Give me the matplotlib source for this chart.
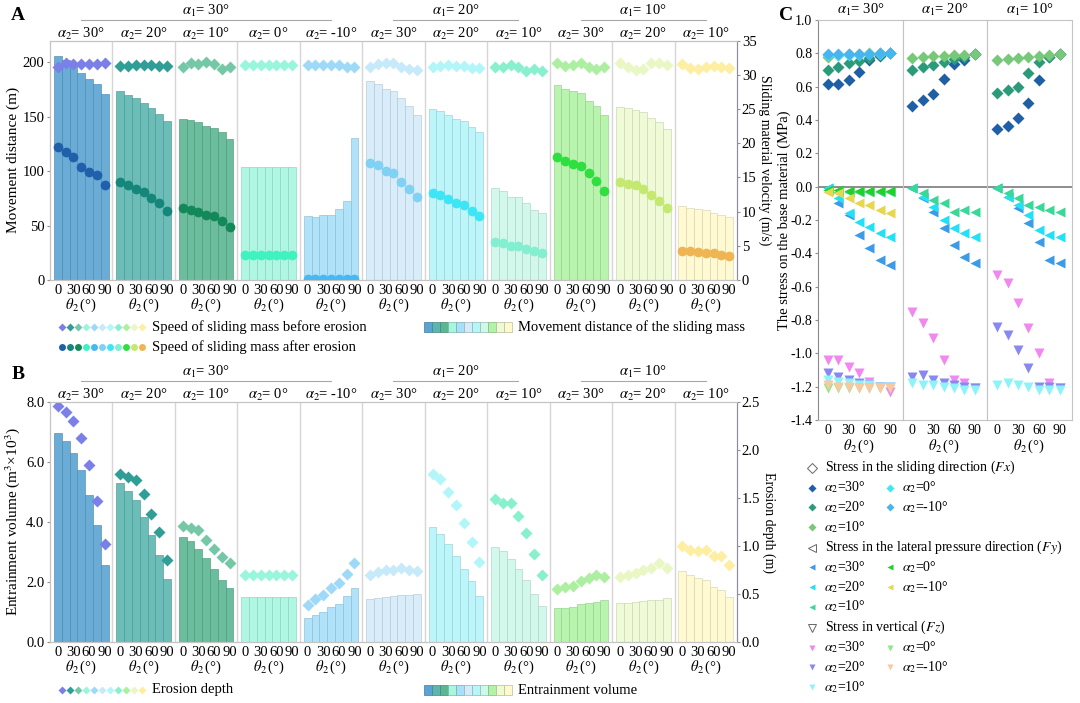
import matplotlib.pyplot as plt
import numpy as np
from matplotlib.colors import to_rgb
from matplotlib.patches import Rectangle

plt.rcParams['font.family'] = ['Liberation Serif', 'DejaVu Serif']
plt.rcParams['mathtext.fontset'] = 'stix'
plt.rcParams['font.size'] = 10

# ---------------- data ----------------
theta = [0, 15, 30, 45, 60, 75, 90]
alpha2_labels = ['30', '20', '10', '0', '-10', '30', '20', '10', '30', '20', '10']
alpha1_labels = ['30', '20', '10']
alpha1_groups = [(0, 5), (5, 8), (8, 11)]

# panel A: movement distance (m), bars
distance = [
    [206, 202, 198, 190, 185, 180, 171],
    [174, 170, 167, 163, 158, 153, 146],
    [148, 147, 145, 142, 140, 136, 130],
    [104, 104, 104, 104, 104, 104, 104],
    [59, 58, 59.5, 60, 65, 73, 131],
    [183, 180, 176, 174, 167, 160, 152],
    [157, 155, 152, 148, 146, 141, 136],
    [85, 82, 76, 76, 71, 64, 62],
    [179, 176, 174, 172, 165, 160, 152],
    [159, 158, 156, 154, 149, 145, 139],
    [68, 66, 65, 64, 62, 60, 58],
]
# panel A: sliding speed before erosion (m/s)
speed_before = [
    [31.1, 31.8, 31.6, 31.6, 31.6, 31.6, 31.8],
    [31.3, 31.3, 31.5, 31.5, 31.4, 31.3, 31.3],
    [31.1, 31.7, 31.6, 31.9, 31.6, 30.9, 31.1],
    [31.5, 31.5, 31.5, 31.5, 31.5, 31.5, 31.5],
    [31.5, 31.5, 31.5, 31.5, 31.5, 31.1, 31.1],
    [31.1, 31.6, 31.7, 31.8, 31.2, 30.8, 30.7],
    [31.2, 31.3, 31.5, 31.3, 31.3, 31.0, 31.0],
    [31.2, 31.2, 31.5, 31.1, 30.6, 30.9, 30.6],
    [31.7, 31.3, 31.5, 31.7, 31.1, 30.9, 31.2],
    [31.7, 31.1, 30.7, 30.9, 31.7, 31.7, 31.4],
    [31.6, 31.0, 30.9, 31.2, 31.3, 31.2, 31.0],
]
# panel A: sliding speed after erosion (m/s)
speed_after = [
    [19.5, 18.7, 18.0, 16.5, 15.8, 15.4, 13.9],
    [14.4, 13.9, 13.3, 12.8, 12.0, 11.3, 10.1],
    [10.5, 10.3, 10.0, 9.5, 9.3, 8.7, 7.8],
    [3.7, 3.7, 3.7, 3.7, 3.7, 3.7, 3.7],
    [0.1, 0.1, 0.1, 0.1, 0.1, 0.1, 0.1],
    [17.1, 16.8, 16.0, 15.6, 14.4, 13.3, 12.2],
    [12.7, 12.4, 11.9, 11.3, 10.9, 10.1, 9.3],
    [5.6, 5.4, 5.0, 5.0, 4.6, 4.3, 4.0],
    [18.0, 17.4, 17.0, 16.7, 15.6, 14.5, 13.0],
    [14.4, 14.1, 13.9, 13.3, 12.4, 11.6, 10.6],
    [4.3, 4.2, 4.1, 4.0, 3.9, 3.7, 3.5],
]
# panel B: entrainment volume (m3 x 10^3), bars
volume = [
    [6.97, 6.68, 6.30, 5.71, 4.88, 3.88, 2.57],
    [5.30, 5.02, 4.71, 4.15, 3.56, 2.90, 2.09],
    [3.49, 3.35, 3.09, 2.78, 2.42, 2.06, 1.79],
    [1.50, 1.50, 1.50, 1.50, 1.50, 1.50, 1.50],
    [0.78, 0.88, 0.99, 1.15, 1.27, 1.51, 1.79],
    [1.42, 1.45, 1.50, 1.53, 1.56, 1.57, 1.60],
    [3.82, 3.60, 3.26, 2.87, 2.44, 2.01, 1.53],
    [3.15, 3.01, 2.76, 2.44, 2.06, 1.60, 1.19],
    [1.12, 1.14, 1.17, 1.25, 1.29, 1.32, 1.38],
    [1.29, 1.29, 1.31, 1.35, 1.38, 1.40, 1.46],
    [2.35, 2.23, 2.12, 2.06, 1.84, 1.73, 1.50],
]
# panel B: erosion depth (m)
depth = [
    [2.45, 2.39, 2.30, 2.12, 1.84, 1.47, 1.02],
    [1.75, 1.72, 1.68, 1.54, 1.33, 1.14, 0.85],
    [1.21, 1.18, 1.16, 1.06, 0.97, 0.88, 0.82],
    [0.70, 0.70, 0.70, 0.70, 0.70, 0.70, 0.70],
    [0.38, 0.44, 0.49, 0.56, 0.61, 0.71, 0.82],
    [0.70, 0.73, 0.75, 0.75, 0.77, 0.75, 0.74],
    [1.75, 1.69, 1.56, 1.42, 1.24, 1.04, 0.83],
    [1.49, 1.44, 1.44, 1.31, 1.13, 0.91, 0.70],
    [0.55, 0.57, 0.58, 0.63, 0.66, 0.70, 0.67],
    [0.67, 0.70, 0.72, 0.75, 0.77, 0.82, 0.77],
    [1.00, 0.96, 0.94, 0.96, 0.89, 0.89, 0.80],
]

# panel C: stresses (MPa), one list per alpha2 (30, 20, 10, 0, -10)
fx_a30 = [
    [0.616, 0.616, 0.643, 0.687, 0.759, 0.783, 0.800],
    [0.703, 0.717, 0.743, 0.757, 0.770, 0.790, 0.800],
    [0.777, 0.790, 0.795, 0.795, 0.800, 0.800, 0.800],
    [0.790, 0.790, 0.792, 0.792, 0.795, 0.798, 0.800],
    [0.795, 0.795, 0.795, 0.795, 0.797, 0.800, 0.802],
]
fx_a20 = [
    [0.482, 0.518, 0.556, 0.649, 0.737, 0.759, 0.797],
    [0.703, 0.717, 0.733, 0.749, 0.769, 0.779, 0.797],
    [0.773, 0.777, 0.783, 0.787, 0.789, 0.793, 0.797],
]
fx_a10 = [
    [0.345, 0.367, 0.412, 0.502, 0.643, 0.779, 0.797],
    [0.562, 0.582, 0.598, 0.683, 0.749, 0.779, 0.797],
    [0.763, 0.767, 0.773, 0.779, 0.787, 0.793, 0.797],
]
fy_a30 = [
    [-0.01, -0.10, -0.17, -0.29, -0.37, -0.44, -0.47],
    [-0.01, -0.07, -0.16, -0.21, -0.24, -0.28, -0.30],
    [-0.02, -0.03, -0.03, -0.03, -0.03, -0.03, -0.03],
    [-0.02, -0.02, -0.025, -0.025, -0.025, -0.025, -0.025],
    [-0.03, -0.04, -0.07, -0.10, -0.11, -0.14, -0.16],
]
fy_a20 = [
    [-0.01, -0.07, -0.15, -0.25, -0.35, -0.42, -0.46],
    [-0.01, -0.06, -0.12, -0.20, -0.25, -0.28, -0.30],
    [-0.01, -0.04, -0.08, -0.10, -0.15, -0.14, -0.15],
]
fy_a10 = [
    [-0.01, -0.06, -0.13, -0.22, -0.33, -0.44, -0.46],
    [-0.01, -0.06, -0.11, -0.17, -0.26, -0.29, -0.30],
    [-0.01, -0.04, -0.07, -0.11, -0.12, -0.14, -0.15],
]
fz_a30 = [
    [-1.04, -1.04, -1.08, -1.12, -1.17, -1.20, -1.23],
    [-1.12, -1.14, -1.16, -1.18, -1.19, -1.20, -1.20],
    [-1.16, -1.17, -1.18, -1.19, -1.19, -1.20, -1.20],
    [-1.21, -1.21, -1.21, -1.21, -1.21, -1.21, -1.21],
    [-1.19, -1.20, -1.20, -1.21, -1.21, -1.21, -1.21],
]
fz_a20 = [
    [-0.75, -0.82, -0.91, -1.04, -1.16, -1.18, -1.21],
    [-1.14, -1.13, -1.16, -1.18, -1.19, -1.20, -1.21],
    [-1.18, -1.19, -1.19, -1.20, -1.21, -1.22, -1.22],
]
fz_a10 = [
    [-0.53, -0.58, -0.70, -0.85, -1.00, -1.18, -1.21],
    [-0.84, -0.89, -0.98, -1.09, -1.20, -1.20, -1.21],
    [-1.19, -1.18, -1.19, -1.20, -1.22, -1.22, -1.22],
]
c_alpha2 = ['30', '20', '10', '0', '-10']

# ---------------- colours ----------------
bar_colors = ['#5aa3d2', '#5cb5b0', '#5bb692', '#a6f7e0', '#a8e0fa', '#d4ecf9',
              '#b6f5fa', '#cdf8ea', '#b2f3a6', '#eefad2', '#fffacd']
dia_colors = ['#7b80e8', '#2f9e96', '#74c8a6', '#98f6dc', '#9ed9f8', '#c6eafa',
              '#b2f6fa', '#88f0cc', '#acefa0', '#e8f7c4', '#fdeea2']
dot_colors = ['#2060aa', '#15877a', '#13895a', '#3ef3c0', '#46b8f2', '#80d2f5',
              '#3ee6f5', '#82efd0', '#2fdf3f', '#c5e970', '#eeb552']
fx_colors = ['#1f5fa5', '#2a9a78', '#78c87a', '#3ee8f0', '#4ab4f0']
fy_colors = ['#3c9be6', '#22e0f5', '#3ad898', '#22d02a', '#e6d650']
fz_colors = ['#f088f0', '#8888f0', '#8cf4f8', '#8ae88a', '#f8c8a0']

W, H = 1080, 703
fig = plt.figure(figsize=(W / 100, H / 100), dpi=100)


def darker(c, f=0.85):
    r, g, b = to_rgb(c)
    return (r * f, g * f, b * f)


def bar_panel(top_px, bot_px, bars, lylim, lticks, lfmt, rylim, rticks, rfmt, marks):
    ax = fig.add_axes([50 / W, 1 - bot_px / H, 687 / W, (bot_px - top_px) / H])
    ax2 = ax.twinx()
    xt, xl = [], []
    for g in range(11):
        xs = g * 8 + 1 + np.arange(len(theta))
        ax.bar(xs, bars[g], width=1.0, color=bar_colors[g], alpha=0.9,
               edgecolor=darker(bar_colors[g]), linewidth=0.5, zorder=2)
        for vals, mk, ms, cols in marks:
            ax2.plot(xs, vals[g], ls='none', marker=mk, ms=ms, color=cols[g], mec='none')
        for i, t in enumerate(theta):
            if t % 30 == 0:
                xt.append(xs[i])
                xl.append(str(t))
        ax.text(g * 8 + 4, -0.105, r'$\theta_2\,$(°)', transform=ax.get_xaxis_transform(),
                ha='center', va='center', fontsize=10.5)
        ax.text(g * 8 + 4, 1.03, r'$\alpha_2$= ' + alpha2_labels[g] + '°',
                transform=ax.get_xaxis_transform(), ha='center', va='center', fontsize=10.5)
    for g in range(1, 11):
        ax.axvline(g * 8, color='#d6d6d6', lw=1.0, zorder=1)
    for lab, (g0, g1) in zip(alpha1_labels, alpha1_groups):
        ax.plot([g0 * 8 + 4, g1 * 8 - 4], [1.085, 1.085], transform=ax.get_xaxis_transform(),
                clip_on=False, color='#a8a8a8', lw=0.8)
        ax.text((g0 + g1) * 4, 1.125, r'$\alpha_1$= ' + lab + '°',
                transform=ax.get_xaxis_transform(), ha='center', va='center', fontsize=10.5)
    ax.set_xlim(0, 88)
    ax.set_ylim(*lylim)
    ax2.set_ylim(*rylim)
    ax.set_xticks(xt)
    ax.set_xticklabels(xl)
    ax.set_yticks(lticks)
    ax.set_yticklabels([lfmt.format(v) for v in lticks])
    ax2.set_yticks(rticks)
    ax2.set_yticklabels([rfmt.format(v) for v in rticks])
    ax.tick_params(axis='x', length=0, pad=3, labelsize=10.5)
    ax.tick_params(axis='y', length=2, color='#909090', labelsize=10.5, pad=2)
    ax2.tick_params(axis='y', length=2, color='#909090', labelsize=10.5, pad=1.5)
    for a in (ax, ax2):
        for s in a.spines.values():
            s.set_color('#c4c4c4')
    ax2.spines['right'].set_color('#8c8c9c')
    ax.spines['left'].set_color('#9a9a9a')
    return ax, ax2


# ---------------- panel A ----------------
bar_panel(40.7, 280, distance, (0, 220), [0, 50, 100, 150, 200], '{:.0f}',
          (0, 35), [0, 5, 10, 15, 20, 25, 30, 35], '{:.0f}',
          [(speed_before, 'D', 6, dia_colors), (speed_after, 'o', 7, dot_colors)])
# ---------------- panel B ----------------
bar_panel(401.7, 641.7, volume, (0, 8), [0, 2, 4, 6, 8], '{:.1f}',
          (0, 2.5), [0, 0.5, 1.0, 1.5, 2.0, 2.5], '{:.1f}',
          [(depth, 'D', 6, dia_colors)])

fig.text(13 / W, 1 - 160 / H, 'Movement distance (m)', rotation=90, ha='center', va='center', fontsize=11)
fig.text(13 / W, 1 - 522 / H, r'Entrainment volume (m$^3$×10$^3$)', rotation=90,
         ha='center', va='center', fontsize=11)
fig.text(765 / W, 1 - 160 / H, 'Sliding material velocity (m/s)', rotation=270,
         ha='center', va='center', fontsize=10)
fig.text(769 / W, 1 - 522 / H, 'Erosion depth (m)', rotation=270, ha='center', va='center', fontsize=10)
fig.text(784 / W, 1 - 220 / H, 'The stress on the base material (MPa)', rotation=90,
         ha='center', va='center', fontsize=10.5)

fig.text(18 / W, 1 - 16 / H, 'A', fontsize=14, fontweight='bold', ha='center', va='center')
fig.text(18 / W, 1 - 375 / H, 'B', fontsize=14, fontweight='bold', ha='center', va='center')
fig.text(786 / W, 1 - 15 / H, 'C', fontsize=14, fontweight='bold', ha='center', va='center')

# ---------------- panel C ----------------
fx_sets = [fx_a30, fx_a20, fx_a10]
fy_sets = [fy_a30, fy_a20, fy_a10]
fz_sets = [fz_a30, fz_a20, fz_a10]
cw = 84.7
for k in range(3):
    ax = fig.add_axes([(818 + k * cw) / W, 1 - 420 / H, cw / W, 400 / H])
    ax.axhline(0, color='#7a7a7a', lw=1.2, zorder=1)
    for j, vals in enumerate(fz_sets[k]):
        ax.plot(theta, vals, ls='none', marker='v', ms=7, color=fz_colors[j], mec='none', zorder=3)
    for j, vals in enumerate(fy_sets[k]):
        ax.plot(theta, vals, ls='none', marker='<', ms=7, color=fy_colors[j], mec='none', zorder=3)
    for j, vals in enumerate(fx_sets[k]):
        ax.plot(theta, vals, ls='none', marker='D', ms=6, color=fx_colors[j], mec='none', zorder=3)
    ax.set_xlim(-14, 108)
    ax.set_ylim(-1.4, 1.0)
    ax.set_xticks([0, 30, 60, 90])
    yt = np.arange(-1.4, 1.01, 0.2)
    ax.set_yticks(yt)
    ax.set_yticklabels(['{:.1f}'.format(round(v, 1) + 0.0) for v in yt])
    ax.tick_params(axis='x', length=0, pad=3, labelsize=10)
    ax.tick_params(axis='y', length=2, color='#909090', labelsize=10, pad=2,
                   left=(k == 0), labelleft=(k == 0))
    for s in ax.spines.values():
        s.set_color('#c4c4c4')
    if k == 0:
        ax.spines['left'].set_color('#8a8a8a')
    ax.text(45, -0.065, r'$\theta_2\,$(°)', transform=ax.get_xaxis_transform(),
            ha='center', va='center', fontsize=10.5)
    ax.text(47, 1.026, r'$\alpha_1$= ' + alpha1_labels[k] + '°', transform=ax.get_xaxis_transform(),
            ha='center', va='center', fontsize=10.5)

# ---------------- legends (overlay in pixel space) ----------------
ov = fig.add_axes([0, 0, 1, 1], facecolor='none')
ov.set_xlim(0, W)
ov.set_ylim(H, 0)
ov.axis('off')

leg_x = 62 + 8 * np.arange(11)
for i in range(11):
    ov.plot(leg_x[i], 327, marker='D', ms=4, color=dia_colors[i], mec='none')
    ov.plot(leg_x[i], 347, marker='o', ms=5, color=dot_colors[i], mec='none')
    ov.plot(leg_x[i], 690, marker='D', ms=4, color=dia_colors[i], mec='none')
    for yy in (327, 690):
        ov.add_patch(Rectangle((424 + 8 * i, yy - 5), 8, 10, facecolor=bar_colors[i],
                               edgecolor=darker(bar_colors[i], 0.75), lw=0.5))
ov.text(152, 327, 'Speed of sliding mass before erosion', va='center', fontsize=10.5)
ov.text(152, 347, 'Speed of sliding mass after erosion', va='center', fontsize=10.5)
ov.text(518, 327, 'Movement distance of the sliding mass', va='center', fontsize=10.5)
ov.text(152, 690, 'Erosion depth', va='center', fontsize=10.5)
ov.text(518, 690, 'Entrainment volume', va='center', fontsize=10.5)

rows = [467.7, 487.5, 507.3, 527.1, 547.5, 567.2, 586.9, 606.6, 627.5, 647.5, 667.3, 687.4]
headers = [('D', 'Stress in the sliding direction ($Fx$)', fx_colors, 5),
           ('<', 'Stress in the lateral pressure direction ($Fy$)', fy_colors, 6),
           ('v', 'Stress in vertical ($Fz$)', fz_colors, 6)]
r = 0
for mk, title, cols, ms in headers:
    ov.plot(812, rows[r], marker=mk, ms=ms, mfc='none', mec='#666666', mew=0.7)
    ov.text(825, rows[r], title, va='center', fontsize=10)
    r += 1
    cells = [(0, 0), (0, 1), (1, 0), (1, 1), (2, 0)]
    order = [0, 3, 1, 4, 2]
    for (rr, cc), j in zip(cells, order):
        xm = 812 if cc == 0 else 890
        ov.plot(xm, rows[r + rr], marker=mk, ms=ms - 1, color=cols[j], mec='none')
        ov.text(xm + 12, rows[r + rr], r'$\alpha_2$=' + c_alpha2[j] + '°', va='center', fontsize=10)
    r += 3

fig.savefig('out.png', dpi=100)
